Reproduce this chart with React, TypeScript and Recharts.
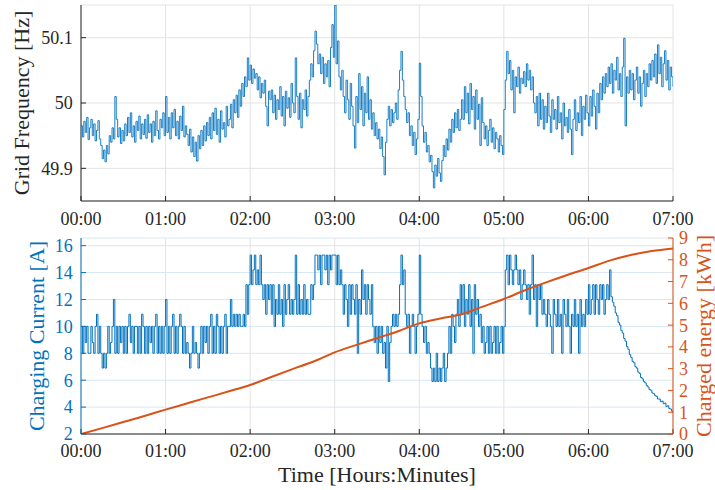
import React from "react";
import { LineChart, Line, XAxis, YAxis, CartesianGrid } from "recharts";

const FONT = "'Liberation Serif', 'Times New Roman', serif";
const BLUE = "#0072BD";
const ORANGE = "#D95319";
const INK = "#262626";

// time axis is in minutes since start
const HOUR_TICKS = [0, 60, 120, 180, 240, 300, 360, 420];
const HOUR_LABELS = ["00:00", "01:00", "02:00", "03:00", "04:00", "05:00", "06:00", "07:00"];
const FREQ_TICKS = [49.9, 50, 50.1];
const CURRENT_TICKS = [2, 4, 6, 8, 10, 12, 14, 16];
const ENERGY_TICKS = [0, 1, 2, 3, 4, 5, 6, 7, 8, 9];

// grid frequency [Hz], one sample per minute
const FREQUENCY = [
  49.965, 49.948, 49.972, 49.955, 49.978, 49.944, 49.962, 49.975, 49.950, 49.968, 49.942, 49.958, 49.973, 49.945, 49.935,
  49.915, 49.928, 49.910, 49.935, 49.922, 49.950, 49.940, 49.962, 49.945, 50.010, 49.975, 49.948, 49.962, 49.938, 49.958,
  49.942, 49.968, 49.950, 49.978, 49.955, 49.985, 49.948, 49.965, 49.940, 49.972, 49.958, 49.980, 49.945, 49.968, 49.952,
  49.975, 49.946, 49.982, 49.955, 49.968, 49.940, 49.972, 49.950, 49.988, 49.958, 49.945, 49.975, 49.962, 49.985, 49.950,
  50.010, 49.955, 49.978, 49.945, 49.985, 49.962, 49.990, 49.950, 49.972, 49.945, 49.980, 49.958, 49.995, 49.948, 49.965,
  49.952, 49.935, 49.960, 49.925, 49.948, 49.918, 49.940, 49.911, 49.950, 49.930, 49.958, 49.935, 49.965, 49.942, 49.970,
  49.950, 49.978, 49.945, 49.985, 49.958, 49.992, 49.952, 49.975, 49.940, 49.988, 49.960, 49.970, 49.948, 49.995, 49.965,
  49.975, 49.998, 49.962, 50.005, 49.985, 50.012, 49.978, 50.020, 49.995, 50.030, 50.010, 50.040, 50.025, 50.069, 50.035,
  50.058, 50.030, 50.052, 50.038, 50.045, 50.020, 50.040, 50.008, 50.030, 50.015, 50.035, 49.995, 49.965, 50.018, 50.005,
  50.020, 49.985, 50.012, 49.975, 50.005, 49.990, 50.025, 49.980, 50.010, 49.965, 50.018, 49.992, 50.008, 49.978, 50.030,
  50.000, 49.985, 50.069, 50.010, 49.975, 50.015, 49.962, 50.005, 49.990, 50.020, 49.980, 50.010, 50.035, 50.060, 50.040,
  50.080, 50.110, 50.090, 50.060, 50.075, 50.045, 50.070, 50.030, 50.060, 50.040, 50.065, 50.025, 50.085, 50.120, 50.070,
  50.150, 50.060, 50.095, 50.040, 50.020, 50.050, 50.010, 49.985, 50.035, 50.005, 49.975, 50.030, 49.995, 49.965, 49.931,
  50.010, 49.970, 50.045, 49.990, 50.025, 49.965, 50.015, 49.985, 50.040, 49.975, 50.005, 49.960, 49.985, 49.950, 49.970,
  49.945, 49.960, 49.930, 49.948, 49.918, 49.890, 49.940, 49.975, 49.995, 49.965, 49.990, 49.970, 49.985, 50.000, 49.975,
  50.020, 50.050, 50.079, 50.035, 50.010, 49.990, 49.970, 49.985, 49.950, 49.965, 49.935, 49.955, 49.921, 49.945, 49.975,
  50.061, 50.010, 49.965, 49.940, 49.955, 49.925, 49.935, 49.910, 49.920, 49.895, 49.870, 49.905, 49.888, 49.915, 49.893,
  49.880, 49.912, 49.935, 49.918, 49.945, 49.928, 49.960, 49.940, 49.975, 49.955, 49.985, 49.962, 49.990, 49.958, 49.975,
  50.005, 49.975, 50.025, 49.985, 50.015, 49.968, 50.030, 49.990, 50.010, 49.960, 50.020, 49.975, 49.998, 49.935, 50.008,
  49.970, 49.945, 49.965, 49.935, 49.958, 49.975, 49.940, 49.962, 49.930, 49.955, 49.945, 49.925, 49.950, 49.935, 49.921,
  49.990, 50.035, 50.079, 50.045, 50.065, 50.020, 50.050, 49.985, 50.040, 50.025, 50.055, 50.015, 50.038, 50.030, 50.048,
  50.025, 50.060, 50.035, 50.050, 50.020, 50.040, 50.000, 49.985, 50.010, 49.965, 50.015, 49.975, 50.005, 49.960, 49.995,
  49.970, 50.015, 49.980, 49.955, 50.005, 49.975, 49.990, 49.960, 50.010, 49.970, 49.985, 49.945, 50.000, 49.965, 49.978,
  49.955, 49.990, 49.960, 49.921, 49.975, 50.005, 49.958, 49.985, 49.970, 50.010, 49.950, 49.995, 49.975, 50.012, 49.985,
  49.965, 50.010, 49.980, 50.020, 49.995, 49.960, 50.015, 49.985, 50.030, 50.005, 50.040, 50.015, 50.045, 50.025, 50.055,
  50.030, 50.060, 50.015, 50.050, 50.035, 50.070, 50.020, 50.045, 50.010, 50.055, 50.099, 49.965, 50.040, 50.015, 50.050,
  50.020, 50.045, 50.005, 50.035, 50.055, 50.015, 50.040, 49.995, 50.030, 50.050, 50.010, 50.045, 50.025, 50.060, 50.035,
  50.065, 50.040, 50.075, 50.030, 50.089, 50.045, 50.070, 50.025, 50.060, 50.080, 50.035, 50.065, 50.020, 50.055, 50.040, 50.025,
];

// charging current [A], one sample per minute
const CURRENT = [
  10, 8, 10, 8.8, 10, 8, 8, 10, 8.8, 8, 10, 10.9, 8, 10, 8,
  6.9, 8, 6.9, 8, 10, 8, 8.8, 10, 12, 8, 10, 8, 10, 8.8, 10,
  8, 10, 8, 10, 10.9, 8.8, 10, 8, 10, 10, 8, 10, 8, 10.9, 10,
  8, 10, 8, 10, 8.8, 10, 8, 10, 10.9, 8, 10, 8, 10, 8, 10,
  12, 8, 10, 8, 10, 10.9, 8, 10, 8, 10, 10.9, 10, 8, 10, 8,
  8.8, 8, 6.9, 8, 10, 8, 8.8, 8, 6.9, 8, 10, 8, 10, 8.8, 10,
  8, 10, 10.9, 8, 10, 8, 10.9, 10, 8, 10, 8, 10, 10.9, 8, 10,
  10, 12, 10, 10.9, 10, 10.9, 10, 10.9, 10, 10, 10.9, 10, 13.1, 10.9, 13.1,
  15.3, 13.1, 14.2, 15.3, 13.1, 14.2, 13.1, 15.3, 13.1, 12, 13.1, 10.9, 13.1, 12, 13.1,
  10.9, 13.1, 10, 12, 10.9, 13.1, 10.9, 12, 10, 13.1, 10.9, 12, 13.1, 10.9, 12,
  10.9, 12, 15.3, 10.9, 13.1, 10.9, 12, 10.9, 13.1, 10.9, 12, 10.9, 10.9, 13.1, 12,
  13.1, 15.3, 15.3, 14.2, 15.3, 13.1, 15.3, 15.3, 14.2, 15.3, 13.1, 15.3, 14.2, 15.3, 15.3,
  15.3, 13.1, 15.3, 13.1, 14.2, 13.1, 10.9, 13.1, 12, 10, 13.1, 10.9, 13.1, 12, 10.9,
  13.1, 8, 12, 10.9, 14.2, 12, 13.1, 10.9, 13.1, 12, 10.9, 13.1, 10, 8.8, 10,
  8, 10, 8.8, 10, 8, 8.8, 6.9, 10, 5.9, 8.8, 10, 10.9, 10, 10.9, 10,
  10.9, 13.1, 15.3, 13.1, 14.2, 10.9, 10, 10.9, 8, 10, 10.9, 10, 8, 10, 10.9,
  15.3, 10.9, 10, 8.8, 10, 8, 8.8, 8, 6.9, 5.9, 6.9, 5.9, 8, 5.9, 6.9,
  5.9, 6.9, 8, 5.9, 6.9, 8, 10, 8, 10.9, 10, 8.8, 10.9, 12, 10, 13.1,
  10.9, 13.1, 10, 12, 10.9, 13.1, 10, 12, 8, 13.1, 10.9, 12, 10, 10.9, 8.8,
  10, 8, 8.8, 10, 8, 10, 8, 8.8, 10, 8, 10, 8, 8.8, 10, 8,
  10, 14.2, 15.3, 13.1, 15.3, 14.2, 13.1, 14.2, 15.3, 14.2, 13.1, 14.2, 12, 13.1, 14.2,
  13.1, 12, 13.1, 10.9, 13.1, 15.3, 12, 13.1, 10, 13.1, 12, 13.1, 10.9, 12, 10.9,
  10, 12, 10.9, 10, 8, 12, 10.9, 10, 12, 10, 10.9, 8, 12, 10.9, 10,
  12, 10, 8, 10.9, 10, 12, 10, 10.9, 8, 12, 10, 10.9, 10, 12, 10.9,
  13.1, 10.9, 12, 13.1, 10.9, 13.1, 12, 10.9, 13.1, 12, 13.1, 10.9, 12, 13.1, 12,
  14.2, 12.2, 11.8, 11.5, 11.0, 10.8, 10.3, 10.1, 9.7, 9.5, 9.1, 8.9, 8.5, 8.3, 7.9,
  7.7, 7.4, 7.3, 7.0, 6.9, 6.6, 6.5, 6.2, 6.1, 5.9, 5.8, 5.6, 5.5, 5.3, 5.25,
  5.05, 5.0, 4.85, 4.8, 4.6, 4.6, 4.4, 4.45, 4.25, 4.3, 4.05, 4.1, 3.9, 3.85, 3.7, 3.55,
];

// charged energy [kWh], every 15 minutes
const ENERGY_STEP = 15;
const ENERGY = [
  0, 0.27, 0.55, 0.83, 1.12, 1.4, 1.68, 1.96, 2.25, 2.62, 2.98, 3.33, 3.75, 4.08, 4.4,
  4.72, 5.08, 5.3, 5.5, 5.85, 6.2, 6.6, 6.96, 7.3, 7.62, 7.96, 8.22, 8.4, 8.52,
];

const freqRows = FREQUENCY.map((f, t) => ({ t, f }));
const chargeRows = CURRENT.map((a, t) => ({
  t,
  a,
  e: t % ENERGY_STEP === 0 ? ENERGY[t / ENERGY_STEP] : null,
}));

const hourLabel = (v: number) => HOUR_LABELS[HOUR_TICKS.indexOf(v)] ?? "";

function VTitle({ px, py, text, color }: { px: number; py: number; text: string; color: string }) {
  return (
    <text
      x={px}
      y={py}
      transform={`rotate(-90 ${px} ${py})`}
      textAnchor="middle"
      fill={color}
      fontSize={22}
      style={{ fontFamily: FONT }}
    >
      {text}
    </text>
  );
}

function HTitle({ px, py, text }: { px: number; py: number; text: string }) {
  return (
    <text x={px} y={py} textAnchor="middle" fill={INK} fontSize={22} style={{ fontFamily: FONT }}>
      {text}
    </text>
  );
}

const tickStyle = (fill: string) => ({ fill, fontSize: 18, fontFamily: FONT, style: { fontFamily: FONT } });

export default function App() {
  return (
    <div
      style={{
        position: "absolute",
        left: 0,
        top: 0,
        width: 715,
        height: 490,
        background: "#fff",
        fontFamily: FONT,
      }}
    >
      {/* upper panel: grid frequency */}
      <div style={{ position: "absolute", left: 0, top: 0 }}>
        <LineChart
          width={715}
          height={230}
          data={freqRows}
          margin={{ top: 5, right: 42, bottom: 0, left: 1 }}
          style={{ fontFamily: FONT }}
        >
          <CartesianGrid stroke="#e3e3e3" />
          <XAxis
            dataKey="t"
            type="number"
            domain={[0, 420]}
            ticks={HOUR_TICKS}
            interval={0}
            tickFormatter={hourLabel}
            allowDataOverflow
            height={29}
            stroke={INK}
            tickSize={-5}
            tickMargin={16}
            tick={tickStyle(INK)}
          />
          <YAxis
            type="number"
            domain={[49.85, 50.15]}
            ticks={FREQ_TICKS}
            interval={0}
            allowDataOverflow
            width={80}
            stroke={INK}
            tickSize={-5}
            tickMargin={13.3}
            tick={tickStyle(INK)}
            label={<VTitle px={28.5} py={103} text="Grid Frequency [Hz]" color={INK} />}
          />
          <Line
            dataKey="f"
            type="stepAfter"
            stroke={BLUE}
            strokeWidth={0.9}
            dot={false}
            activeDot={false}
            isAnimationActive={false}
          />
        </LineChart>
      </div>

      {/* lower panel: charging current and energy */}
      <div style={{ position: "absolute", left: 0, top: 0 }}>
        <LineChart
          width={715}
          height={490}
          data={chargeRows}
          margin={{ top: 238, right: 0, bottom: 0, left: 1 }}
          style={{ fontFamily: FONT }}
        >
          <CartesianGrid vertical={false} stroke="#d8e7f4" />
          <CartesianGrid horizontal={false} stroke="#e3e3e3" />
          <XAxis
            dataKey="t"
            type="number"
            domain={[0, 420]}
            ticks={HOUR_TICKS}
            interval={0}
            tickFormatter={hourLabel}
            allowDataOverflow
            height={56}
            stroke={INK}
            tickSize={-5}
            tickMargin={15.5}
            tick={tickStyle(INK)}
            label={<HTitle px={377} py={482} text="Time [Hours:Minutes]" />}
          />
          <YAxis
            type="number"
            domain={[2, 16.57]}
            ticks={CURRENT_TICKS}
            interval={0}
            allowDataOverflow
            width={80}
            stroke={BLUE}
            tickSize={-5}
            tickMargin={13.3}
            tick={tickStyle(BLUE)}
            label={<VTitle px={44} py={336} text="Charging Current [A]" color={BLUE} />}
          />
          <YAxis
            yAxisId="en"
            orientation="right"
            type="number"
            domain={[0, 9]}
            ticks={ENERGY_TICKS}
            interval={0}
            allowDataOverflow
            width={42}
            stroke={ORANGE}
            tickSize={-5}
            tickMargin={11}
            tick={tickStyle(ORANGE)}
            label={<VTitle px={711} py={336} text="Charged energy [kWh]" color={ORANGE} />}
          />
          <Line
            dataKey="a"
            type="stepAfter"
            stroke={BLUE}
            strokeWidth={1}
            dot={false}
            activeDot={false}
            isAnimationActive={false}
          />
          <Line
            yAxisId="en"
            dataKey="e"
            type="monotone"
            connectNulls
            stroke={ORANGE}
            strokeWidth={2}
            dot={false}
            activeDot={false}
            isAnimationActive={false}
          />
        </LineChart>
      </div>
    </div>
  );
}
